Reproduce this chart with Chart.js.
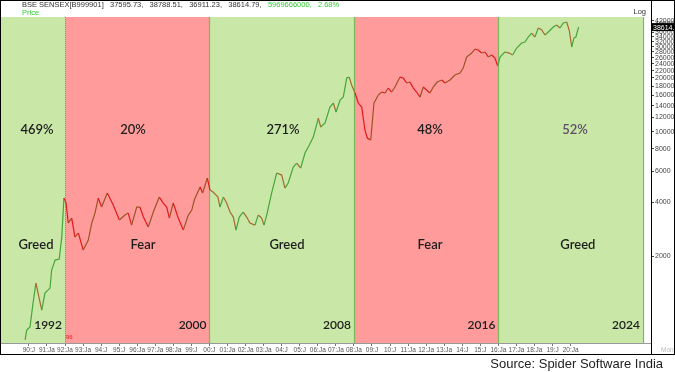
<!DOCTYPE html>
<html><head><meta charset="utf-8">
<script src="https://cdn.jsdelivr.net/npm/chart.js@4"></script>
<style>html,body{margin:0;padding:0;background:#fff}#wrap{width:675px;height:372px;position:relative}</style>
</head><body><div id="wrap"><canvas id="c" width="675" height="372"></canvas></div>
<script>
// ---- data ----
const years = [
1989.79,1989.88,1990.06,1990.23,1990.39,1990.71,1990.89,1991.17,1991.26,1991.45,
1991.68,1991.82,1991.94,1992.06,1992.18,1992.37,1992.55,1992.74,1993.01,1993.29,
1993.48,1993.66,1993.84,1994.03,1994.34,1994.67,1995.01,1995.32,1995.50,1995.69,
1995.97,1996.15,1996.34,1996.61,1996.89,1997.22,1997.44,1997.63,1997.78,1997.99,
1998.27,1998.55,1998.83,1999.02,1999.16,1999.48,1999.62,1999.88,2000.03,2000.20,
2000.47,2000.58,2000.77,2000.95,2001.14,2001.32,2001.47,2001.65,2001.87,2002.06,
2002.24,2002.52,2002.70,2002.89,2003.02,2003.17,2003.44,2003.72,2004.00,2004.18,
2004.36,2004.64,2004.83,2005.05,2005.29,2005.53,2005.75,2006.03,2006.16,2006.40,
2006.67,2006.86,2007.01,2007.23,2007.41,2007.60,2007.74,2007.87,2008.06,2008.24,
2008.43,2008.61,2008.74,2008.93,2009.11,2009.35,2009.54,2009.72,2009.90,2010.09,
2010.27,2010.55,2010.73,2010.92,2011.10,2011.29,2011.47,2011.66,2011.84,2012.02,
2012.21,2012.39,2012.61,2012.86,2013.04,2013.32,2013.59,2013.87,2014.05,2014.24,
2014.52,2014.70,2014.88,2015.07,2015.26,2015.44,2015.63,2015.81,2015.96,2016.09,
2016.36,2016.60,2016.79,2017.01,2017.29,2017.47,2017.65,2017.84,2018.02,2018.21,
2018.40,2018.58,2018.76,2019.04,2019.22,2019.41,2019.59,2019.78,2019.92,2020.06,
2020.18,2020.29,2020.44];
const sensex = [
676,768,799,1090,1410,995,1240,1322,1670,1898,
1923,2556,4234,3970,3065,3270,2556,2693,2162,2460,
3065,3487,4234,3769,4518,3869,3186,3398,3487,2986,
3769,3769,3312,2910,3533,4290,3970,3769,3270,3970,
3270,2799,3398,3626,4126,4881,4518,5484,4696,4576,
4290,3769,4290,3970,3533,3312,2799,3312,3533,3312,
3065,2986,3398,3270,2986,3398,4518,5850,5700,4818,
5141,6322,6658,6241,7578,8402,9318,11914,10605,11170,
13736,14464,12874,15036,15630,19986,20240,18256,16460,14464,
13736,10202,9200,8964,14464,16040,16680,16460,17560,16680,
17790,20240,19986,18740,18980,17560,16680,15630,17790,17110,
16460,17790,18980,19480,18740,19480,20780,21320,22740,26230,
27610,29080,28700,27610,27980,26230,26910,25890,23340,26230,
27980,27610,26910,29460,31430,31840,33970,35770,33970,38160,
37180,34850,36230,38650,39670,38160,40700,41240,37180,29840,
33520,33970,38614.79];

const bandStart  = [1988.4, 1992, 2000, 2008, 2016];
const bandEnd    = [1992, 2000, 2008, 2016, 2024];
const bandMood   = ['Greed', 'Fear', 'Greed', 'Fear', 'Greed'];
const bandReturn = ['469%', '20%', '271%', '48%', '52%'];
const bandYear   = ['1992', '2000', '2008', '2016', '2024'];
const returnX    = [1990.45, 1995.77, 2004.07, 2012.21, 2020.24];
const moodX      = [1990.39, 1996.32, 2004.29, 2012.21, 2020.40];
const returnLevel = 10200;
const moodLevel   = 2306;

const yTickValues = [2000,4000,6000,8000,10000,12000,14000,16000,18000,20000,22000,24000,26000,28000,30000,32000,34000,36000,38000,40000,42000];
const xTickYears  = [1990,1991,1992,1993,1994,1995,1996,1997,1998,1999,2000,2001,2002,2003,2004,2005,2006,2007,2008,2009,2010,2011,2012,2013,2014,2015,2016,2017,2018,2019,2020];
const xTickLabels = ['90:J','91:Ja','92:Ja','93:Ja','94:J','95:J','96:Ja','97:Ja','98:Ja','99:J','00:J','01:Ja','02:Ja','03:Ja','04:J','05:J','06:Ja','07:Ja','08:Ja','09:J','10:J','11:Ja','12:Ja','13:Ja','14:J','15:J','16:Ja','17:Ja','18:Ja','19:J','20:Ja'];

const headerName = 'BSE SENSEX[B999901]';
const ohlc = [37595.73, 38788.51, 36911.23, 38614.79];
const volume = 5969666000;
const changePct = 2.68;

const GREEN_BG = '#c9e7a7', RED_BG = '#ff9b9b';
const GREED_UP = '#46a53a', GREED_DOWN = '#a8692c', FEAR_DOWN = '#e0191c', FEAR_UP = '#9c5424';

function moodAt(yr) {
  for (let i = 0; i < bandStart.length; i++) if (yr >= bandStart[i] && yr < bandEnd[i]) return bandMood[i];
  return 'Greed';
}

const overlay = {
  id: 'overlay',
  beforeDatasetsDraw(chart) {
    const {ctx, chartArea: a, scales: {x}} = chart;
    ctx.save();
    ctx.beginPath(); ctx.rect(a.left, a.top, a.right - a.left, a.bottom - a.top); ctx.clip();
    bandStart.forEach((s, i) => {
      const x0 = x.getPixelForValue(s), x1 = x.getPixelForValue(bandEnd[i]);
      ctx.fillStyle = bandMood[i] === 'Greed' ? GREEN_BG : RED_BG;
      ctx.fillRect(x0, a.top, x1 - x0, a.bottom - a.top);
    });
    bandEnd.forEach((e, i) => {
      const px = Math.round(x.getPixelForValue(e)) + 0.5;
      ctx.strokeStyle = i === 0 ? '#7a9a70' : '#79b95a';
      ctx.lineWidth = i === 0 ? 1 : 1.2;
      ctx.setLineDash(i === 0 ? [1, 1] : []);
      ctx.beginPath(); ctx.moveTo(px, a.top); ctx.lineTo(px, a.bottom); ctx.stroke();
    });
    ctx.setLineDash([]);
    ctx.restore();
  },
  afterDatasetsDraw(chart) {
    const {ctx, chartArea: a, scales: {x, y}} = chart;
    ctx.save();
    ctx.textAlign = 'center'; ctx.textBaseline = 'middle';
    ctx.font = '600 13px Lato, "Open Sans", sans-serif';
    bandReturn.forEach((t, i) => {
      ctx.fillStyle = i === 4 ? '#5c4e68' : '#1e1e1e';
      ctx.fillText(t, x.getPixelForValue(returnX[i]), y.getPixelForValue(returnLevel));
    });
    ctx.fillStyle = '#1e1e1e';
    bandMood.forEach((t, i) => {
      ctx.fillText(t, x.getPixelForValue(moodX[i]), y.getPixelForValue(moodLevel));
    });
    ctx.font = '600 12px Lato, "Open Sans", sans-serif';
    ctx.textAlign = 'right';
    bandYear.forEach((t, i) => {
      ctx.fillText(t, x.getPixelForValue(bandEnd[i]) - 3, a.bottom - 18);
    });
    ctx.font = '6px "Liberation Sans", Arial, sans-serif';
    ctx.fillStyle = '#d22';
    ctx.textAlign = 'left';
    ctx.fillText('96', x.getPixelForValue(bandStart[1]) + 1, a.bottom - 6);
    ctx.restore();
  },
  afterDraw(chart) {
    const {ctx, chartArea: a, scales: {y}} = chart;
    ctx.save();
    ctx.textBaseline = 'middle'; ctx.textAlign = 'left';
    ctx.font = '7.5px "Liberation Sans", Arial, sans-serif';
    ctx.fillStyle = '#333';
    const main = headerName + '   ' + ohlc.map(v => v.toFixed(2) + ',').join('   ') + '   ';
    ctx.fillText(main, 22, 4.5);
    const w = ctx.measureText(main).width;
    ctx.fillStyle = '#33cc33';
    ctx.fillText(volume + ',   ' + changePct.toFixed(2) + '%', 22 + w, 4.5);
    ctx.fillText('Price', 22, 12.5);
    ctx.fillStyle = '#333';
    ctx.textAlign = 'right';
    ctx.fillText('Log', a.right - 5, 12);
    const last = sensex[sensex.length - 1];
    const ly = y.getPixelForValue(last);
    ctx.fillStyle = '#000';
    ctx.fillRect(a.right + 1, ly - 4, 24, 8);
    ctx.fillStyle = '#fff';
    ctx.font = '7px "Liberation Sans", Arial, sans-serif';
    ctx.textAlign = 'left';
    ctx.fillText(last.toFixed(1), a.right + 2, ly + 0.5);
    ctx.fillStyle = '#bbb';
    ctx.font = '6.5px "Liberation Sans", Arial, sans-serif';
    ctx.fillText('Mon', a.right + 10, a.bottom + 7);
    ctx.strokeStyle = '#000'; ctx.lineWidth = 1;
    ctx.strokeRect(0.5, 0.5, 674, 354);
    ctx.beginPath(); ctx.moveTo(a.right + 0.5, 0); ctx.lineTo(a.right + 0.5, 355); ctx.stroke();
    ctx.fillStyle = '#222';
    ctx.font = '13px "Liberation Sans", Arial, sans-serif';
    ctx.textAlign = 'right';
    ctx.fillText('Source: Spider Software India', 663, 364);
    ctx.restore();
  }
};

new Chart(document.getElementById('c'), {
  type: 'line',
  data: {
    datasets: [{
      data: years.map((yr, i) => ({x: yr, y: sensex[i]})),
      borderWidth: 1.2,
      pointRadius: 0,
      tension: 0,
      borderColor: GREED_UP,
      segment: {
        borderColor: c => {
          const mood = moodAt((c.p0.parsed.x + c.p1.parsed.x) / 2);
          const down = c.p1.parsed.y < c.p0.parsed.y;
          if (mood === 'Fear') return down ? FEAR_DOWN : FEAR_UP;
          return down ? GREED_DOWN : GREED_UP;
        }
      }
    }]
  },
  options: {
    responsive: false, animation: false, devicePixelRatio: 1,
    layout: { padding: { top: 17, bottom: 18, left: 0, right: 0 } },
    plugins: { legend: { display: false }, tooltip: { enabled: false } },
    scales: {
      x: {
        type: 'linear', min: 1988.4, max: 2024.45,
        afterBuildTicks: s => { s.ticks = xTickYears.map(v => ({value: v})); },
        afterFit: s => { s.height = 11; },
        ticks: { callback: (v, i) => xTickLabels[i], font: { size: 6.5, family: '"Liberation Sans", Arial, sans-serif' }, color: '#555', maxRotation: 0, autoSkip: false, padding: 0 },
        grid: { drawOnChartArea: false, tickLength: 3, color: '#777' },
        border: { color: '#999' }
      },
      y: {
        type: 'logarithmic', position: 'right', min: 650, max: 44000,
        afterBuildTicks: s => { s.ticks = yTickValues.map(v => ({value: v})); },
        afterFit: s => { s.width = 24; },
        ticks: { callback: v => String(v), font: { size: 7, family: '"Liberation Sans", Arial, sans-serif' }, color: '#444', autoSkip: false, padding: 1 },
        grid: { drawOnChartArea: false, tickLength: 3, color: '#444' },
        border: { color: '#000' }
      }
    }
  },
  plugins: [overlay]
});
</script></body></html>
